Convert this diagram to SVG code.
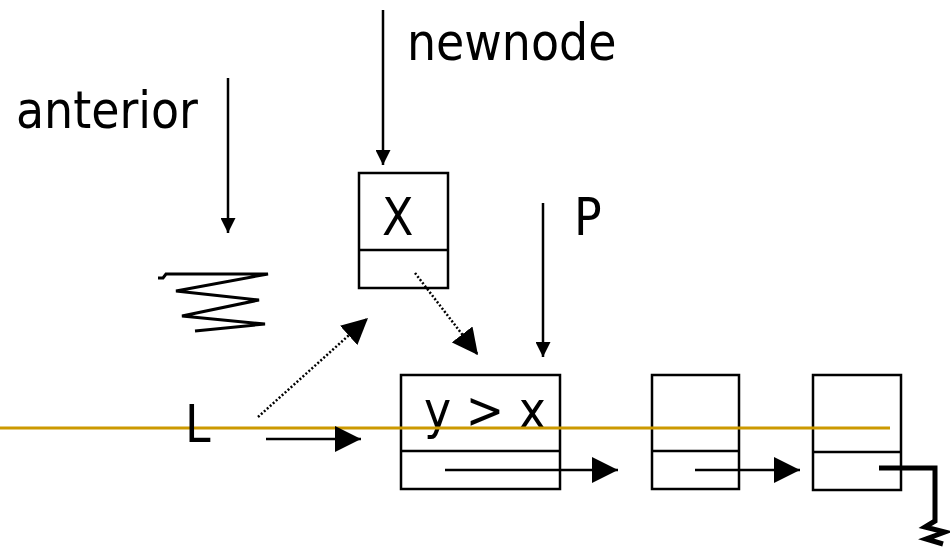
<svg xmlns="http://www.w3.org/2000/svg" width="950" height="549" viewBox="0 0 950 549">
  <style>
    .box { fill: none; stroke: #000; stroke-width: 2.5; }
    .wire { fill: none; stroke: #000; stroke-width: 2.5; }
    .scribble { fill: none; stroke: #000; stroke-width: 3; stroke-linejoin: miter; }
    .dots { fill: none; stroke: #000; stroke-width: 2.5; stroke-dasharray: 2 2; }
    .label { font-family: "DejaVu Sans Condensed", "DejaVu Sans", sans-serif; font-size: 51px; fill: #000; }
    .rail { stroke: #CC9900; stroke-width: 3; }
  </style>
  <defs>
    <marker id="headS" markerUnits="userSpaceOnUse" markerWidth="15" markerHeight="15" refX="15" refY="7.5" orient="auto" viewBox="0 0 15 15">
      <path d="M0,0 L15,7.5 L0,15 Z" fill="#000"/>
    </marker>
    <marker id="headL" markerUnits="userSpaceOnUse" markerWidth="26" markerHeight="26" refX="26" refY="13" orient="auto" viewBox="0 0 26 26">
      <path d="M0,0 L26,13 L0,26 Z" fill="#000"/>
    </marker>
  </defs>

  <!-- list nodes -->
  <g id="node-new">
    <rect class="box" x="359" y="173" width="89" height="115"/>
    <line class="wire" x1="359" y1="250" x2="448" y2="250"/>
    <text class="label" x="382" y="235">X</text>
  </g>
  <g id="node-1">
    <rect class="box" x="401" y="375" width="159" height="114"/>
    <line class="wire" x1="401" y1="451" x2="560" y2="451"/>
    <text class="label" x="424" y="428">y &gt; x</text>
  </g>
  <g id="node-2">
    <rect class="box" x="652" y="375" width="87" height="114"/>
    <line class="wire" x1="652" y1="451" x2="739" y2="451"/>
  </g>
  <g id="node-3">
    <rect class="box" x="813" y="375" width="88" height="115"/>
    <line class="wire" x1="813" y1="452" x2="901" y2="452"/>
  </g>

  <!-- horizontal rule across the list -->
  <line class="rail" x1="0" y1="428" x2="890" y2="428"/>

  <!-- pointer labels -->
  <g id="label-newnode"><text class="label" x="407" y="60">newnode</text></g>
  <g id="label-anterior"><text class="label" x="16" y="128">anterior</text></g>
  <g id="label-p"><text class="label" x="574" y="235">P</text></g>
  <g id="label-l"><text class="label" x="185" y="442">L</text></g>

  <!-- scribble under anterior -->
  <g id="anterior-null">
    <polyline class="scribble" points="158,278 163,278 166,274 268,274 176,291 259,300 182,316 265,324 195,331"/>
  </g>

  <!-- connectors -->
  <g id="connectors">
    <line class="wire" x1="383" y1="10" x2="383" y2="165" marker-end="url(#headS)"/>
    <line class="wire" x1="228" y1="78" x2="228" y2="233" marker-end="url(#headS)"/>
    <line class="wire" x1="543" y1="203" x2="543" y2="357" marker-end="url(#headS)"/>
    <line class="wire" x1="266" y1="439" x2="361" y2="439" marker-end="url(#headL)"/>
    <line class="wire" x1="445" y1="470" x2="618" y2="470" marker-end="url(#headL)"/>
    <line class="wire" x1="695" y1="470" x2="800" y2="470" marker-end="url(#headL)"/>
    <line class="dots" x1="258" y1="417" x2="368" y2="318" marker-end="url(#headL)"/>
    <line class="dots" x1="415" y1="273" x2="478" y2="355" marker-end="url(#headL)"/>
    <!-- null pointer to ground -->
    <polyline fill="none" stroke="#000" stroke-width="5" stroke-linejoin="miter" points="879,468 935,468 935,521 925,527 945,532 926,539 943,544"/>
  </g>
</svg>
